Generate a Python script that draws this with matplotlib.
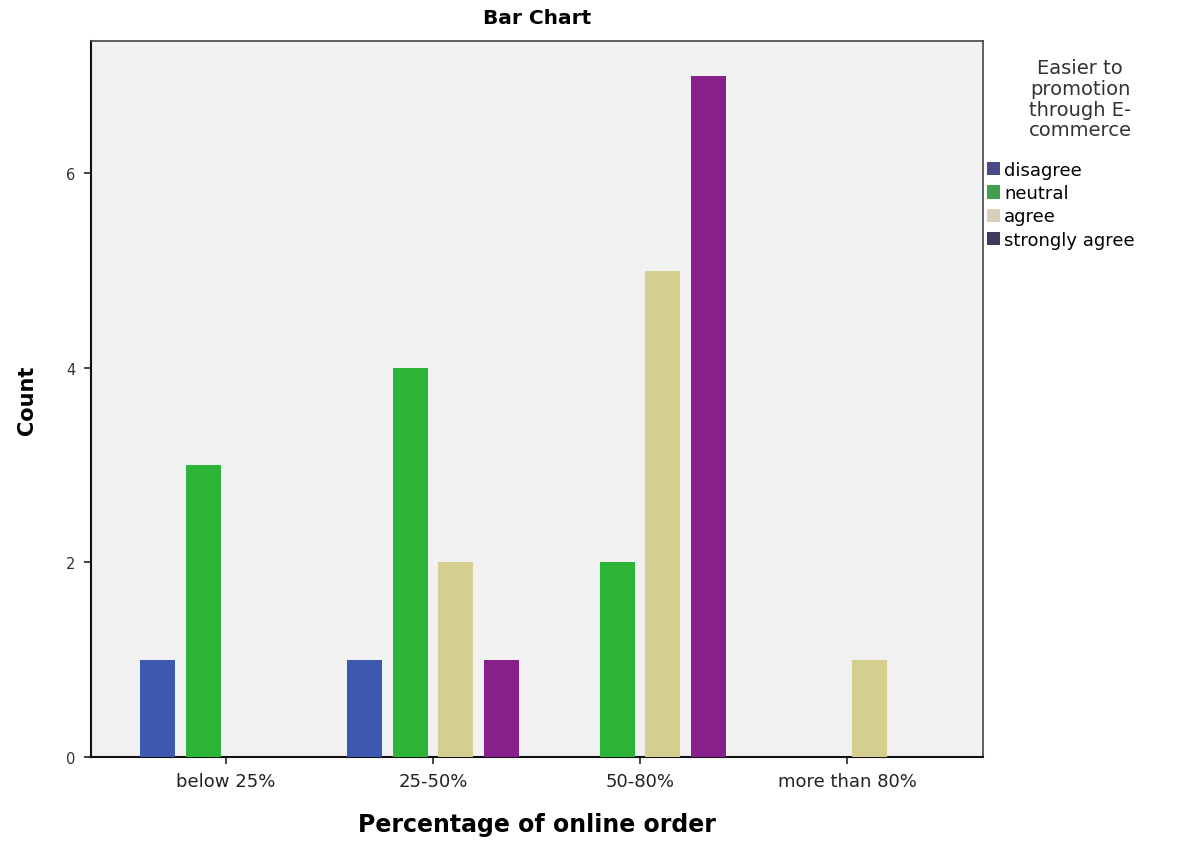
import numpy as np
import matplotlib
matplotlib.use("Agg")
import matplotlib.pyplot as plt
from matplotlib.patches import Patch

categories = ["below 25%", "25-50%", "50-80%", "more than 80%"]
series_names = ["disagree", "neutral", "agree", "strongly agree"]
disagree = [1, 1, 0, 0]
neutral = [3, 4, 2, 0]
agree = [0, 2, 5, 1]
strongly_agree = [0, 1, 7, 0]
series_values = [disagree, neutral, agree, strongly_agree]
colors = ["#3b57ae", "#2db53a", "#d4cf8e", "#87208a"]
legend_colors = ["#4a4a86", "#3f9f4f", "#d8cfb8", "#3e3a5e"]
legend_title = "Easier to\npromotion\nthrough E-\ncommerce"
yticks = [0, 2, 4, 6]

fig = plt.figure(figsize=(11.78, 8.45), dpi=100)
ax = fig.add_axes([0.0772, 0.1030, 0.7573, 0.8473])
ax.set_facecolor("#f1f1f1")

x = np.arange(len(categories))
slot = 0.22
width = 0.17
for i, (vals, col) in enumerate(zip(series_values, colors)):
    offs = (i - 1.5) * slot
    v = np.array(vals, dtype=float)
    mask = v > 0
    ax.bar(x[mask] + offs, v[mask], width=width, color=col, edgecolor="none", zorder=3)

ax.set_xlim(-0.652, 3.657)
ax.set_ylim(0, 7.36)
ax.set_xticks(x)
ax.set_xticklabels(categories, fontsize=13, color="#222222")
ax.set_yticks(yticks)
ax.set_yticklabels([str(t) for t in yticks], fontsize=10.5, color="#333333")
ax.tick_params(axis="both", length=5, width=1.2, color="#222222", pad=6)

for side in ["left", "bottom"]:
    ax.spines[side].set_linewidth(1.5)
    ax.spines[side].set_color("#111111")
for side in ["top", "right"]:
    ax.spines[side].set_linewidth(1.2)
    ax.spines[side].set_color("#444444")

ax.set_title("Bar Chart", fontsize=14.5, fontweight="bold", pad=13)
ax.set_xlabel("Percentage of online order", fontsize=17, fontweight="bold", labelpad=16)
ax.set_ylabel("Count", fontsize=15, fontweight="bold", labelpad=21)

# legend title and entries
fig.text(1080 / 1178, 1 - 59 / 845, legend_title, ha="center", va="top",
         fontsize=14, color="#333333", linespacing=1.12, multialignment="center")

handles = [Patch(facecolor=c, edgecolor="none") for c in legend_colors]
fig.legend(handles, series_names,
           loc="upper left", bbox_to_anchor=(987 / 1178, 1 - 162 / 845),
           frameon=False, fontsize=13,
           handlelength=0.7, handleheight=0.75, handletextpad=0.25,
           labelspacing=0.29, borderaxespad=0, borderpad=0)

fig.savefig("out.png", dpi=100, facecolor="white")
